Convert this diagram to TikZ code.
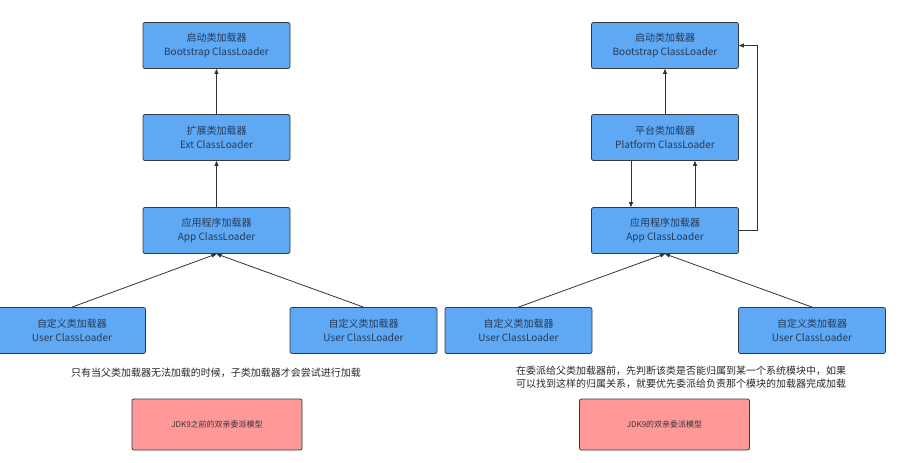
\documentclass[tikz,border=0pt]{standalone}
\usepackage{fontspec}
\setmainfont{Noto Sans CJK SC}
\usetikzlibrary{arrows.meta}
\definecolor{boxblue}{RGB}{94,168,244}
\definecolor{boxedge}{RGB}{52,58,66}
\definecolor{boxtext}{RGB}{38,58,88}
\definecolor{boxpink}{RGB}{255,153,153}
\definecolor{linegray}{RGB}{50,50,50}

\begin{document}
\begin{tikzpicture}[x=1pt, y=-1pt,
    loader/.style={draw=boxedge, fill=boxblue, rounded corners=2pt, line width=0.8pt,
        minimum width=147pt, minimum height=46pt, align=center, text=boxtext,
        font=\fontsize{10}{14.5}\selectfont},
    model/.style={draw=boxedge, fill=boxpink, rounded corners=2pt, line width=0.8pt,
        minimum width=170pt, minimum height=51pt, text=black!80,
        font=\fontsize{8}{10}\selectfont},
    note/.style={align=center, text=black!85, font=\fontsize{10}{13}\selectfont},
    parent/.style={draw=linegray, line width=0.8pt, -{Triangle[length=5pt, width=4pt]}}]
    \useasboundingbox (0,0) rectangle (906,463);

    % before JDK9: strict parent delegation
    \begin{scope}
        \node[loader] (boot) at (216.5, 45.5) {启动类加载器\\Bootstrap ClassLoader};
        \node[loader] (ext) at (216.5, 137.5) {扩展类加载器\\Ext ClassLoader};
        \node[loader] (app) at (216.5, 230.5) {应用程序加载器\\App ClassLoader};
        \node[loader] (userA) at (72, 330.5) {自定义类加载器\\User ClassLoader};
        \node[loader] (userB) at (363.5, 330.5) {自定义类加载器\\User ClassLoader};
        \draw[parent] (ext) -- (boot);
        \draw[parent] (app) -- (ext);
        \draw[parent] (userA.north) -- (app.south);
        \draw[parent] (userB.north) -- (app.south);
        \node[note] (ruleOld) at (216, 373) {只有当父类加载器无法加载的时候，子类加载器才会尝试进行加载};
        \node[model] (oldModel) at (217, 424.5) {JDK9之前的双亲委派模型};
    \end{scope}

    % JDK9: module-aware delegation
    \begin{scope}[xshift=448.5pt]
        \node[loader] (bootN) at (216.5, 45.5) {启动类加载器\\Bootstrap ClassLoader};
        \node[loader] (plat) at (216.5, 137.5) {平台类加载器\\Platform ClassLoader};
        \node[loader] (appN) at (216.5, 230.5) {应用程序加载器\\App ClassLoader};
        \node[loader] (userC) at (70, 330.5) {自定义类加载器\\User ClassLoader};
        \node[loader] (userD) at (363.5, 330.5) {自定义类加载器\\User ClassLoader};
        \draw[parent] (plat) -- (bootN);
        \draw[parent] ([xshift=-34pt]plat.south) -- ([xshift=-34pt]appN.north);
        \draw[parent] ([xshift=30pt]appN.north) -- ([xshift=30pt]plat.south);
        \draw[parent] (appN.east) -- ++(18,0) |- (bootN.east);
        \draw[parent] (userC.north) -- (appN.south);
        \draw[parent] (userD.north) -- (appN.south);
        \node[note] (ruleNew) at (232.5, 377.5) {在委派给父类加载器前，先判断该类是否能归属到某一个系统模块中，如果\\可以找到这样的归属关系，就要优先委派给负责那个模块的加载器完成加载};
        \node[model] (newModel) at (216, 424.5) {JDK9的双亲委派模型};
    \end{scope}
\end{tikzpicture}
\end{document}
